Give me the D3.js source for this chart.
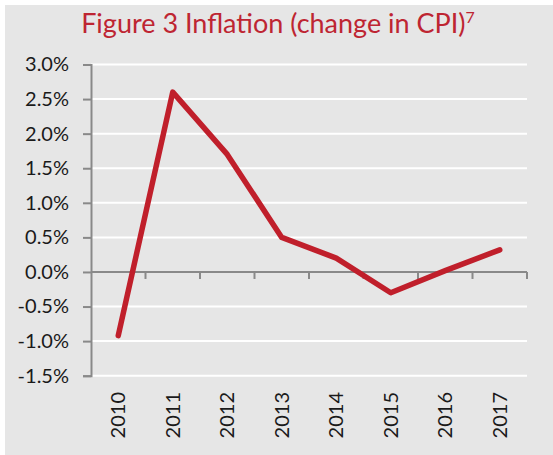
<!DOCTYPE html>
<html>
<head>
<script src="https://d3js.org/d3.v7.min.js"></script>
<style>
  body { margin: 0; background: #fff; }
  .axis text { font-family: Lato, sans-serif; font-size: 20px; fill: #1a1a1a; }
</style>
</head>
<body>
<script>
  var years = ['2010', '2011', '2012', '2013', '2014', '2015', '2016', '2017'];
  var inflation = [-0.92, 2.6, 1.7, 0.5, 0.2, -0.3, 0.02, 0.32];
  var yTicks = [-1.5, -1.0, -0.5, 0.0, 0.5, 1.0, 1.5, 2.0, 2.5, 3.0];

  var w = 553, h = 455;
  var plotLeft = 91, plotRight = 527, plotTop = 64.5, plotBottom = 375.7;

  var svg = d3.select('body').append('svg').attr('width', w).attr('height', h);

  svg.append('rect')
    .attr('x', 5).attr('y', 5).attr('width', w - 5).attr('height', h - 5)
    .attr('fill', '#e6e6e6');

  svg.append('text')
    .attr('x', 278).attr('y', 33)
    .attr('text-anchor', 'middle')
    .style('font-family', 'Lato, sans-serif')
    .style('font-size', '27px')
    .style('fill', '#be2532')
    .text('Figure 3 Inflation (change in CPI)')
    .append('tspan')
    .attr('dy', -10)
    .style('font-size', '16px')
    .text('7');

  var xScale = d3.scaleBand().domain(years).range([plotLeft, plotRight]);
  var yScale = d3.scaleLinear().domain([-1.5, 3.0]).range([plotBottom, plotTop]);

  // gridlines
  svg.append('g')
    .selectAll('line')
    .data(yTicks)
    .join('line')
    .attr('x1', plotLeft).attr('x2', plotRight)
    .attr('y1', function(d){ return yScale(d) })
    .attr('y2', function(d){ return yScale(d) })
    .attr('stroke', '#fff')
    .attr('stroke-width', 2);

  // y axis
  var yAxisGen = d3.axisLeft(yScale)
    .tickValues(yTicks)
    .tickSize(8)
    .tickPadding(14)
    .tickFormat(function(d){ return d.toFixed(1) + '%' });

  var yAxis = svg.append('g')
    .attr('class', 'axis')
    .attr('transform', 'translate(' + plotLeft + ',0)')
    .call(yAxisGen);
  yAxis.select('.domain').attr('stroke', '#898989').attr('stroke-width', 2);
  yAxis.selectAll('.tick line').attr('stroke', '#898989').attr('stroke-width', 2);

  // x axis on zero line
  var zeroY = yScale(0);
  var xAxis = svg.append('g')
    .attr('transform', 'translate(0,' + zeroY + ')');
  xAxis.append('line')
    .attr('x1', plotLeft).attr('x2', plotRight)
    .attr('stroke', '#898989').attr('stroke-width', 2);
  xAxis.selectAll('.bt')
    .data(years.slice(1).concat(['end']))
    .join('line')
    .attr('class', 'bt')
    .attr('x1', function(d, i){ return i < years.length - 1 ? xScale(d) : plotRight })
    .attr('x2', function(d, i){ return i < years.length - 1 ? xScale(d) : plotRight })
    .attr('y1', 0).attr('y2', 7)
    .attr('stroke', '#898989').attr('stroke-width', 2);

  // year labels at bottom
  svg.append('g')
    .attr('class', 'axis')
    .selectAll('text')
    .data(years)
    .join('text')
    .attr('transform', function(d){
      return 'translate(' + (xScale(d) + xScale.bandwidth() / 2 + 7) + ',392) rotate(-90)';
    })
    .attr('text-anchor', 'end')
    .text(function(d){ return d });

  var lineFunc = d3.line()
    .x(function(d, i){ return xScale(years[i]) + xScale.bandwidth() / 2 })
    .y(function(d){ return yScale(d) });

  svg.append('path')
    .attr('d', lineFunc(inflation))
    .attr('fill', 'none')
    .attr('stroke', '#c01f2b')
    .attr('stroke-width', 5.5)
    .attr('stroke-linecap', 'round')
    .attr('stroke-linejoin', 'round');
</script>
</body>
</html>
